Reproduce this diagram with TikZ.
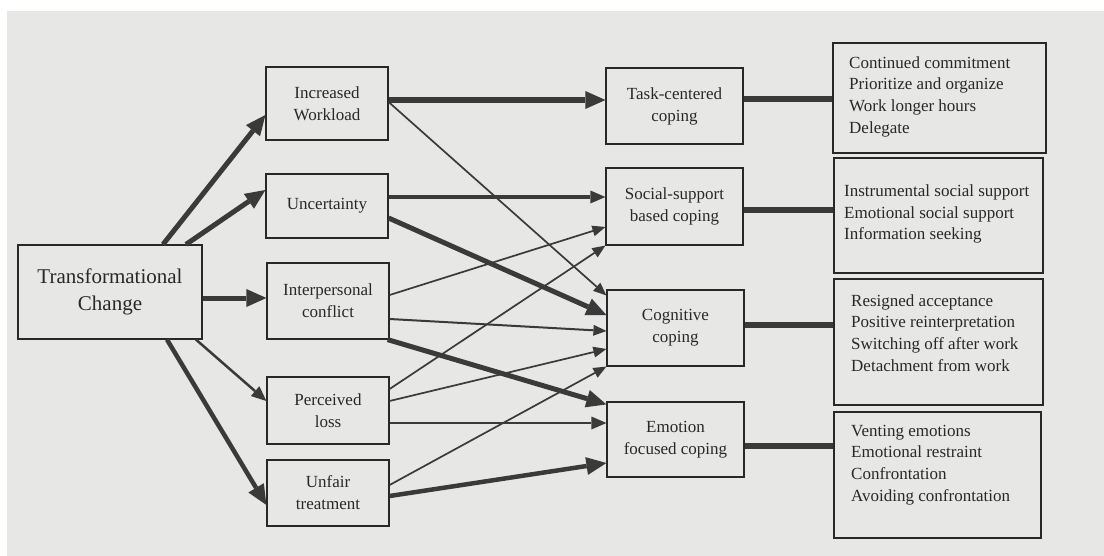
\documentclass[tikz,border=0pt]{standalone}
\usepackage{fontspec}
\setmainfont{Liberation Serif}
\usetikzlibrary{arrows.meta}
\definecolor{paper}{RGB}{231,231,229}
\definecolor{ink}{RGB}{40,40,40}
\definecolor{linegray}{RGB}{58,58,58}
\tikzset{
    % Boxes
    source/.style={
        rectangle,
        draw=ink,
        line width=1.2pt,
        text=ink,
        align=center,
        minimum width=184pt,
        minimum height=94pt,
        font=\fontsize{21}{27}\selectfont
    },
    stressor/.style={
        rectangle,
        draw=ink,
        line width=1.2pt,
        text=ink,
        align=center,
        minimum width=122pt,
        font=\fontsize{17}{22}\selectfont
    },
    coping/.style={
        rectangle,
        draw=ink,
        line width=1.2pt,
        text=ink,
        align=center,
        minimum width=137pt,
        font=\fontsize{17}{22}\selectfont
    },
    outcome/.style={
        rectangle,
        draw=ink,
        line width=1.2pt
    },
    outtext/.style={
        anchor=west,
        align=left,
        inner sep=0pt,
        text=ink,
        font=\fontsize{17}{21.7}\selectfont
    },
    % Arrows
    arrow/.style={
        -{Triangle[length=13pt,width=11pt,line width=0pt]},
        line width=1.7pt,
        draw=linegray
    },
    midarrow/.style={
        -{Triangle[length=15pt,width=13pt,line width=0pt]},
        line width=3pt,
        draw=linegray
    },
    bigarrow/.style={
        -{Triangle[length=20pt,width=18pt,line width=0pt]},
        line width=5pt,
        draw=linegray
    },
    link/.style={
        line width=6pt,
        draw=linegray
    }
}

\begin{document}
\begin{tikzpicture}[x=1pt, y=-1pt]

    \path[use as bounding box, fill=white] (0,0) rectangle (1104,555);
    \fill[paper] (7,11) rectangle (1110,560);

    % Source
    \node[source] (tc) at (110,292) {Transformational\\Change};

    % Stressors
    \node[stressor, minimum height=73pt] (wl) at (327,103.5) {Increased\\Workload};
    \node[stressor, minimum height=64pt] (unc) at (327,206) {Uncertainty};
    \node[stressor, minimum height=76pt] (ip) at (328,301) {Interpersonal\\conflict};
    \node[stressor, minimum height=67pt] (pl) at (328,410.5) {Perceived\\loss};
    \node[stressor, minimum height=66pt] (ut) at (328,493) {Unfair\\treatment};

    % Coping
    \node[coping, minimum height=76pt] (task) at (674.5,106) {Task-centered\\coping};
    \node[coping, minimum height=77pt] (soc) at (674.5,206.5) {Social-support\\based coping};
    \node[coping, minimum height=76pt] (cog) at (675.5,328) {Cognitive\\coping};
    \node[coping, minimum height=75pt] (emo) at (675.5,439.5) {Emotion\\focused coping};

    % Strategies
    \node[outcome, minimum width=213pt, minimum height=110pt] (r1) at (939.5,98) {};
    \node[outtext] (r1t) at (849,96.5) {Continued commitment\\Prioritize and organize\\Work longer hours\\Delegate};
    \node[outcome, minimum width=209pt, minimum height=115pt] (r2) at (938.5,215.5) {};
    \node[outtext] (r2t) at (844,214) {Instrumental social support\\Emotional social support\\Information seeking};
    \node[outcome, minimum width=209pt, minimum height=126pt] (r3) at (938.5,342) {};
    \node[outtext] (r3t) at (851,333) {Resigned acceptance\\Positive reinterpretation\\Switching off after work\\Detachment from work};
    \node[outcome, minimum width=207pt, minimum height=126pt] (r4) at (937.5,475) {};
    \node[outtext] (r4t) at (851,465) {Venting emotions\\Emotional restraint\\Confrontation\\Avoiding confrontation};

    % Change to stressors
    \draw[bigarrow] ([xshift=53pt]tc.north) -- ([yshift=-11.5pt]wl.west);
    \draw[bigarrow] ([xshift=76pt]tc.north) -- ([yshift=16pt]unc.west);
    \draw[bigarrow] ([yshift=-6pt]tc.east) -- ([yshift=-6pt]tc.east -| ip.west);
    \draw[midarrow, line width=2.5pt] ([xshift=86pt]tc.south) -- ([yshift=9.5pt]pl.west);
    \draw[bigarrow, line width=4.5pt] ([xshift=57pt]tc.south) -- ([yshift=-12pt]ut.west);

    % Stressors to coping
    \draw[bigarrow, line width=6pt] ([yshift=3.5pt]wl.east) -- ([yshift=3.5pt]wl.east -| task.west);
    \draw[arrow] ([yshift=1.5pt]wl.east) -- ([yshift=-6pt]cog.north west);
    \draw[midarrow, line width=3.5pt] ([yshift=9pt]unc.east) -- ([yshift=9pt]unc.east -| soc.west);
    \draw[bigarrow] ([yshift=-12pt]unc.east) -- ([yshift=13pt]cog.west);
    \draw[arrow] ([yshift=6pt]ip.east) -- ([yshift=-20.5pt]soc.west);
    \draw[arrow, line width=2pt] ([yshift=-18pt]ip.east) -- ([yshift=-3pt]cog.west);
    \draw[bigarrow] ([xshift=-2pt]ip.south east) -- ([yshift=-3pt]emo.north west);
    \draw[arrow] ([yshift=21.5pt]pl.east) -- (soc.south west);
    \draw[arrow] ([yshift=9.5pt]pl.east) -- ([yshift=-21pt]cog.west);
    \draw[midarrow, line width=2.5pt] ([yshift=-12.5pt]pl.east) -- ([yshift=-12.5pt]pl.east -| emo.west);
    \draw[arrow] ([yshift=8pt]ut.east) -- (cog.south west);
    \draw[bigarrow, line width=4.5pt] ([yshift=-3pt]ut.east) -- ([yshift=-23.5pt]emo.west);

    % Coping to strategies
    \draw[link] ([yshift=7pt]task.east) -- ([yshift=7pt]task.east -| r1.west);
    \draw[link] ([yshift=-3.5pt]soc.east) -- ([yshift=-3.5pt]soc.east -| r2.west);
    \draw[link] ([yshift=3pt]cog.east) -- ([yshift=3pt]cog.east -| r3.west);
    \draw[link] ([yshift=-6.5pt]emo.east) -- ([yshift=-6.5pt]emo.east -| r4.west);

\end{tikzpicture}
\end{document}
